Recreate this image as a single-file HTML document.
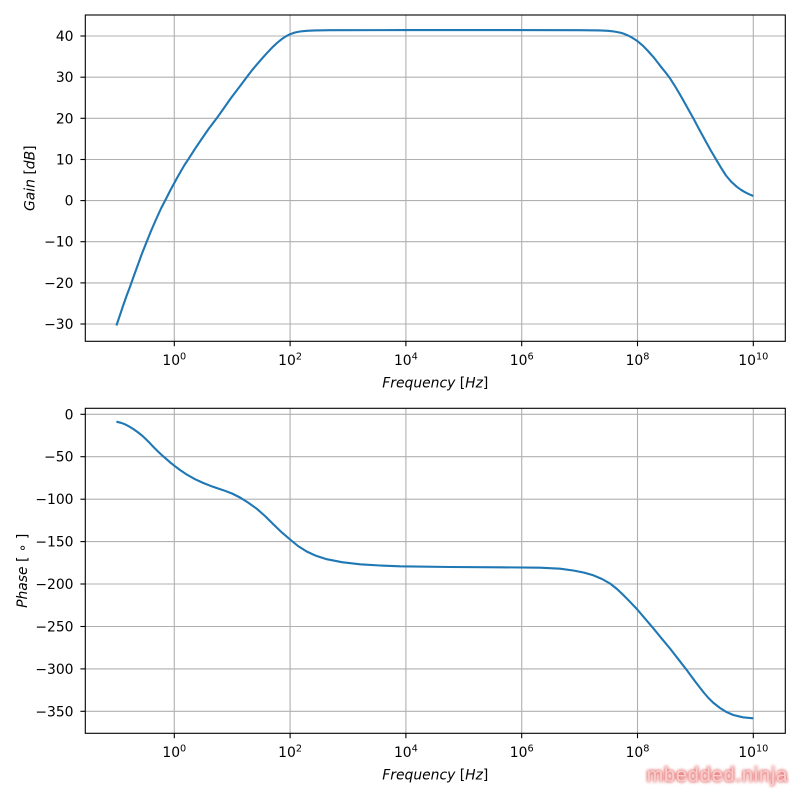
<!DOCTYPE html>
<html>
<head>
<meta charset="utf-8">
<style>
  html, body { margin: 0; padding: 0; background: #ffffff; }
  svg { display: block; }
  .tk { font-family: "DejaVu Sans", "Liberation Sans", sans-serif; font-size: 13.9px; fill: #000; }
  .lab { font-family: "DejaVu Sans", "Liberation Sans", sans-serif; font-size: 13.9px; fill: #000; }
  .it { font-style: italic; }
  .wm { font-family: "Liberation Sans", "DejaVu Sans", sans-serif; font-size: 20px; fill: #f9cccc; letter-spacing: 0.8px; }
</style>
</head>
<body>
<svg width="800" height="800" viewBox="0 0 800 800" xmlns="http://www.w3.org/2000/svg">
  <rect x="0" y="0" width="800" height="800" fill="#ffffff"/>

  <!-- ================= TOP PLOT ================= -->
  <g stroke="#b0b0b0" stroke-width="1.1" fill="none">
    <line x1="174.3" y1="15" x2="174.3" y2="341.3"/>
    <line x1="290.1" y1="15" x2="290.1" y2="341.3"/>
    <line x1="405.9" y1="15" x2="405.9" y2="341.3"/>
    <line x1="521.7" y1="15" x2="521.7" y2="341.3"/>
    <line x1="637.5" y1="15" x2="637.5" y2="341.3"/>
    <line x1="753.3" y1="15" x2="753.3" y2="341.3"/>
    <line x1="85.3" y1="36.0" x2="785.3" y2="36.0"/>
    <line x1="85.3" y1="77.2" x2="785.3" y2="77.2"/>
    <line x1="85.3" y1="118.3" x2="785.3" y2="118.3"/>
    <line x1="85.3" y1="159.5" x2="785.3" y2="159.5"/>
    <line x1="85.3" y1="200.6" x2="785.3" y2="200.6"/>
    <line x1="85.3" y1="241.7" x2="785.3" y2="241.7"/>
    <line x1="85.3" y1="282.9" x2="785.3" y2="282.9"/>
    <line x1="85.3" y1="324.0" x2="785.3" y2="324.0"/>
  </g>

  <polyline fill="none" stroke="#1f77b4" stroke-width="2.1" stroke-linejoin="round" stroke-linecap="butt"
    points="116.4,325.5 120,315 123,306 126.5,296 130,286.7 134,275.5 138,264.5 142,253.5 146.7,241.7 151,231 156,219.5 161,208.5 166.7,197.5 170.5,190 174.3,183 178,176.3 181,171 184.5,165 188.3,159.3 195,148.8 202,138.5 209,128.4 216.7,118.3 224,108 231,98 239,87.5 246.7,77.3 252,70.3 257,64.3 262,58.6 266.7,53.3 270.5,49.3 274,45.8 277,43 280,40.5 283,38.2 286,36.3 290,34.2 295,32.5 300,31.5 306.7,30.8 315,30.4 330,30.2 400,30.1 500,30.1 580,30.2 600,30.4 608,30.8 614,31.5 620,32.6 624,33.8 628,35.5 632,37.6 637.3,41 643,45.8 648,51 653.3,56.9 657,61.6 661,66.8 665.5,72.4 670,78.3 675.5,87 681,96.3 687,107 693.3,118.3 699,129 705,140 710.5,150 716,159.3 721,167.7 726,175.5 731,181.5 736.7,186.7 741,189.8 745,192.2 749,194.2 753.3,196"/>

  <rect x="85.3" y="15" width="700" height="326.3" fill="none" stroke="#000" stroke-width="1.1"/>

  <g stroke="#000" stroke-width="1.1">
    <line x1="80.4" y1="36.0" x2="85.3" y2="36.0"/>
    <line x1="80.4" y1="77.2" x2="85.3" y2="77.2"/>
    <line x1="80.4" y1="118.3" x2="85.3" y2="118.3"/>
    <line x1="80.4" y1="159.5" x2="85.3" y2="159.5"/>
    <line x1="80.4" y1="200.6" x2="85.3" y2="200.6"/>
    <line x1="80.4" y1="241.7" x2="85.3" y2="241.7"/>
    <line x1="80.4" y1="282.9" x2="85.3" y2="282.9"/>
    <line x1="80.4" y1="324.0" x2="85.3" y2="324.0"/>
    <line x1="174.3" y1="341.3" x2="174.3" y2="346.2"/>
    <line x1="290.1" y1="341.3" x2="290.1" y2="346.2"/>
    <line x1="405.9" y1="341.3" x2="405.9" y2="346.2"/>
    <line x1="521.7" y1="341.3" x2="521.7" y2="346.2"/>
    <line x1="637.5" y1="341.3" x2="637.5" y2="346.2"/>
    <line x1="753.3" y1="341.3" x2="753.3" y2="346.2"/>
  </g>

  <g class="tk" text-anchor="end">
    <text x="73.5" y="41.0">40</text>
    <text x="73.5" y="82.2">30</text>
    <text x="73.5" y="123.3">20</text>
    <text x="73.5" y="164.5">10</text>
    <text x="73.5" y="205.6">0</text>
    <text x="73.5" y="246.7">−10</text>
    <text x="73.5" y="287.9">−20</text>
    <text x="73.5" y="329.0">−30</text>
  </g>

  <g class="tk" text-anchor="middle">
    <text x="174.3" y="365">10<tspan font-size="9.7px" dy="-5.5">0</tspan></text>
    <text x="290.1" y="365">10<tspan font-size="9.7px" dy="-5.5">2</tspan></text>
    <text x="405.9" y="365">10<tspan font-size="9.7px" dy="-5.5">4</tspan></text>
    <text x="521.7" y="365">10<tspan font-size="9.7px" dy="-5.5">6</tspan></text>
    <text x="637.5" y="365">10<tspan font-size="9.7px" dy="-5.5">8</tspan></text>
    <text x="753.3" y="365">10<tspan font-size="9.7px" dy="-5.5">10</tspan></text>
  </g>

  <text class="lab" x="435.3" y="387.3" text-anchor="middle"><tspan class="it">Frequency</tspan> [<tspan class="it">Hz</tspan>]</text>
  <text class="lab" transform="translate(34.5,178.2) rotate(-90)" text-anchor="middle"><tspan class="it">Gain</tspan> [<tspan class="it">dB</tspan>]</text>

  <!-- ================= BOTTOM PLOT ================= -->
  <g stroke="#b0b0b0" stroke-width="1.1" fill="none">
    <line x1="174.3" y1="408.3" x2="174.3" y2="733.3"/>
    <line x1="290.1" y1="408.3" x2="290.1" y2="733.3"/>
    <line x1="405.9" y1="408.3" x2="405.9" y2="733.3"/>
    <line x1="521.7" y1="408.3" x2="521.7" y2="733.3"/>
    <line x1="637.5" y1="408.3" x2="637.5" y2="733.3"/>
    <line x1="753.3" y1="408.3" x2="753.3" y2="733.3"/>
    <line x1="85.3" y1="414.3" x2="785.3" y2="414.3"/>
    <line x1="85.3" y1="456.7" x2="785.3" y2="456.7"/>
    <line x1="85.3" y1="499.2" x2="785.3" y2="499.2"/>
    <line x1="85.3" y1="541.6" x2="785.3" y2="541.6"/>
    <line x1="85.3" y1="584.0" x2="785.3" y2="584.0"/>
    <line x1="85.3" y1="626.5" x2="785.3" y2="626.5"/>
    <line x1="85.3" y1="668.9" x2="785.3" y2="668.9"/>
    <line x1="85.3" y1="711.3" x2="785.3" y2="711.3"/>
  </g>

  <polyline fill="none" stroke="#1f77b4" stroke-width="2.1" stroke-linejoin="round"
    points="116.4,421.7 121,422.8 125,424.3 129,426.4 133.3,429 137.5,432 142,435.5 146,439.3 150,443.3 154,447.5 158,451.5 162,455.3 166.7,459.3 170.5,462.7 174.3,465.7 180,470 186.7,474.5 195,479.2 203.3,483 213,486.8 223.3,490.2 232,493.5 240,497.5 248,502.5 256.7,508.7 265,516 273.3,524.3 282,532.6 290.7,540 298,546 306.7,551.5 316,555.8 326.7,559.2 342,562.2 360,564.3 380,565.5 400,566.3 450,567 500,567.3 540,567.7 560,568.7 573.3,570.5 584,572.6 593.3,575.3 602,579 610,583.5 617,589 623.3,595 630,601.8 637.3,609.5 645,618.6 653.3,628.3 661.5,638.3 670,648.5 678,658.8 686.7,670 695,681.2 703.3,692 708,697.5 713,702.5 720,708 726,711.8 733.3,715 743,717.3 753.3,718.3"/>

  <rect x="85.3" y="408.3" width="700" height="325" fill="none" stroke="#000" stroke-width="1.1"/>

  <g stroke="#000" stroke-width="1.1">
    <line x1="80.4" y1="414.3" x2="85.3" y2="414.3"/>
    <line x1="80.4" y1="456.7" x2="85.3" y2="456.7"/>
    <line x1="80.4" y1="499.2" x2="85.3" y2="499.2"/>
    <line x1="80.4" y1="541.6" x2="85.3" y2="541.6"/>
    <line x1="80.4" y1="584.0" x2="85.3" y2="584.0"/>
    <line x1="80.4" y1="626.5" x2="85.3" y2="626.5"/>
    <line x1="80.4" y1="668.9" x2="85.3" y2="668.9"/>
    <line x1="80.4" y1="711.3" x2="85.3" y2="711.3"/>
    <line x1="174.3" y1="733.3" x2="174.3" y2="738.2"/>
    <line x1="290.1" y1="733.3" x2="290.1" y2="738.2"/>
    <line x1="405.9" y1="733.3" x2="405.9" y2="738.2"/>
    <line x1="521.7" y1="733.3" x2="521.7" y2="738.2"/>
    <line x1="637.5" y1="733.3" x2="637.5" y2="738.2"/>
    <line x1="753.3" y1="733.3" x2="753.3" y2="738.2"/>
  </g>

  <g class="tk" text-anchor="end">
    <text x="73.5" y="419.3">0</text>
    <text x="73.5" y="461.7">−50</text>
    <text x="73.5" y="504.2">−100</text>
    <text x="73.5" y="546.6">−150</text>
    <text x="73.5" y="589.0">−200</text>
    <text x="73.5" y="631.5">−250</text>
    <text x="73.5" y="673.9">−300</text>
    <text x="73.5" y="716.3">−350</text>
  </g>

  <g class="tk" text-anchor="middle">
    <text x="174.3" y="757">10<tspan font-size="9.7px" dy="-5.5">0</tspan></text>
    <text x="290.1" y="757">10<tspan font-size="9.7px" dy="-5.5">2</tspan></text>
    <text x="405.9" y="757">10<tspan font-size="9.7px" dy="-5.5">4</tspan></text>
    <text x="521.7" y="757">10<tspan font-size="9.7px" dy="-5.5">6</tspan></text>
    <text x="637.5" y="757">10<tspan font-size="9.7px" dy="-5.5">8</tspan></text>
    <text x="753.3" y="757">10<tspan font-size="9.7px" dy="-5.5">10</tspan></text>
  </g>

  <text class="lab" x="435.3" y="779.3" text-anchor="middle"><tspan class="it">Frequency</tspan> [<tspan class="it">Hz</tspan>]</text>
  <text class="lab" transform="translate(26.8,570.8) rotate(-90)" text-anchor="middle"><tspan class="it">Phase</tspan> [ ∘ ]</text>

  <defs>
    <filter id="glow" x="-20%" y="-60%" width="140%" height="220%">
      <feGaussianBlur in="SourceAlpha" stdDeviation="1.6" result="b"/>
      <feFlood flood-color="#e04848" flood-opacity="0.9"/>
      <feComposite in2="b" operator="in" result="g"/>
      <feMerge>
        <feMergeNode in="g"/>
        <feMergeNode in="g"/>
        <feMergeNode in="SourceGraphic"/>
      </feMerge>
    </filter>
  </defs>
  <text class="wm" x="646.5" y="781.7" filter="url(#glow)">mbedded.ninja</text>
</svg>
</body>
</html>
